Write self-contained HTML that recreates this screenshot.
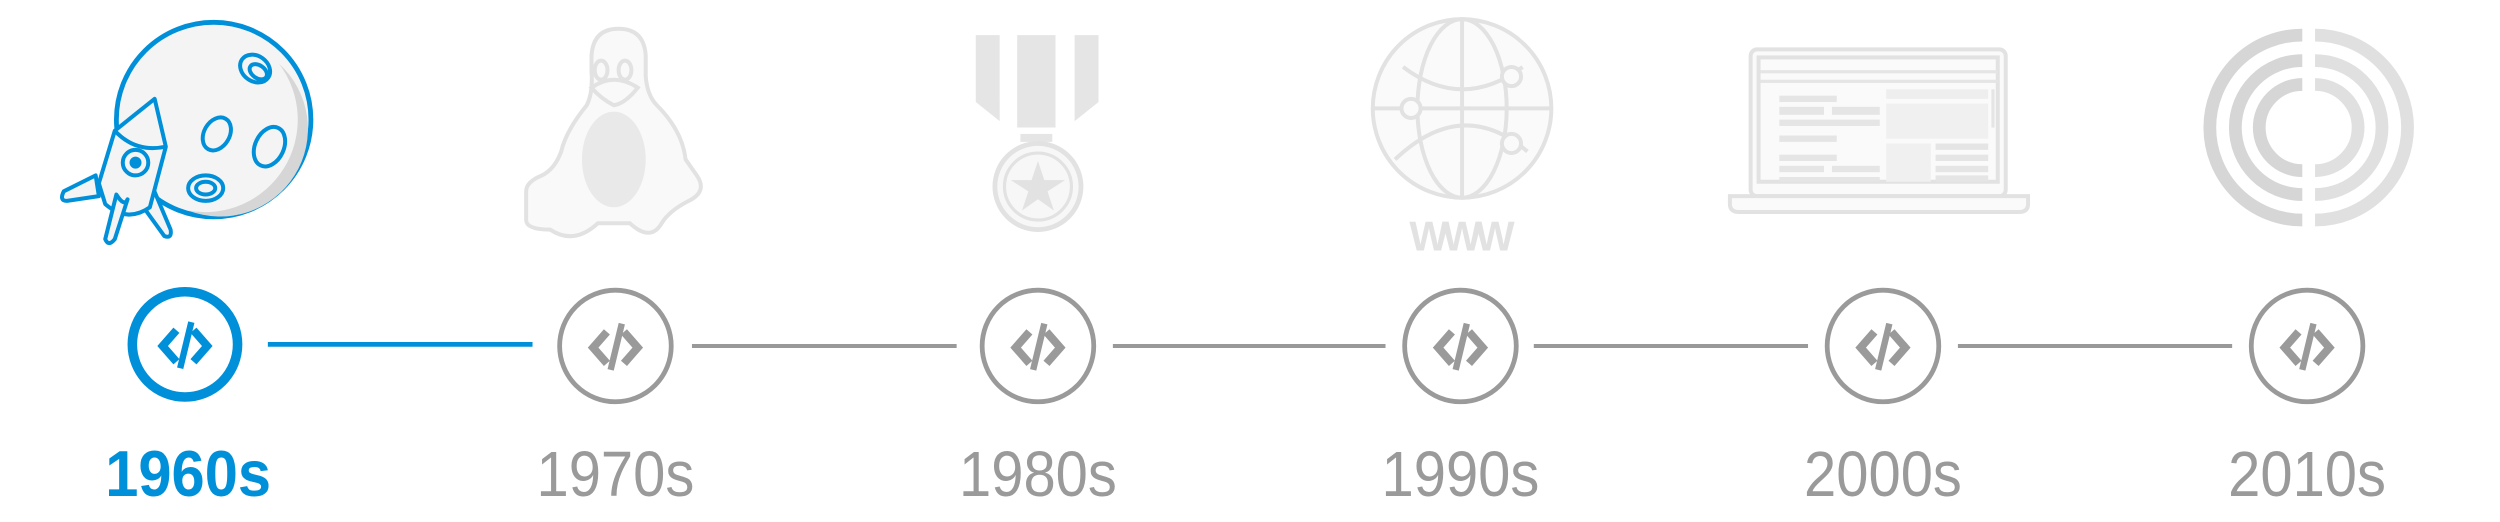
<!DOCTYPE html>
<html><head><meta charset="utf-8"><style>
html,body{margin:0;padding:0;background:#fff;width:2500px;height:522px;overflow:hidden}
svg{display:block}
</style></head><body>
<svg width="2500" height="522" viewBox="0 0 1568 327.4" preserveAspectRatio="none" xmlns="http://www.w3.org/2000/svg">
<!-- Moon + rocket -->
<circle cx="134" cy="75" r="61" fill="#f4f4f4" stroke="#0090d9" stroke-width="3"/>
<path d="M175 40 A55 55 0 0 1 118 132 A58 58 0 0 0 175 40Z" fill="#d6d6d6"/>
<g fill="none" stroke="#0090d9" stroke-width="2.5">
<ellipse cx="160" cy="43" rx="10" ry="8" transform="rotate(35 160 43)"/>
<ellipse cx="162" cy="45" rx="6" ry="4" transform="rotate(35 162 45)"/>
<ellipse cx="136" cy="84" rx="8" ry="11" transform="rotate(30 136 84)"/>
<ellipse cx="169" cy="92" rx="9" ry="13" transform="rotate(25 169 92)"/>
<ellipse cx="129" cy="118" rx="11" ry="8"/>
<ellipse cx="129" cy="118" rx="6" ry="4"/>
</g>
<g stroke="#0090d9" stroke-width="2.5" fill="#f4f4f4" stroke-linejoin="round">
<path d="M60 110 L40 120 Q37 126 42 126 L62 123Z"/>
<path d="M90 130 L103 148 Q108 150 107 144 L96 118Z"/>
<path d="M97 62 L104 92 L94 130 Q80 140 66 128 L62 115 L72 82 Z"/>
<path d="M72 82 Q85 96 104 92" fill="none"/>
<circle cx="85" cy="102" r="8"/>
<circle cx="85" cy="102" r="2.5" fill="#0090d9"/>
<path d="M73 122 Q78 130 80 125 L72 150 Q68 155 66 150Z"/>
</g>
<!-- Penguin -->
<g fill="#f9f9f9" stroke="#e2e2e2" stroke-width="2.5">
<path d="M388 18 Q404 18 405 35 L405 48 Q406 60 412 66 Q428 82 430 100 L437 110 Q444 120 432 126 Q420 132 415 140 Q408 152 395 140 L375 140 Q360 154 345 144 Q330 144 330 138 L330 120 Q330 114 340 110 Q348 106 352 95 Q355 82 368 66 Q372 58 371 45 L371 35 Q372 18 388 18Z"/>
<ellipse cx="385" cy="100" rx="20" ry="30" fill="#e9e9e9" stroke="none"/>
<ellipse cx="377" cy="44" rx="4" ry="6"/><ellipse cx="392" cy="44" rx="4" ry="6"/>
<path d="M371 55 Q385 45 400 55 Q392 65 385 66 Q377 62 371 55Z"/>
</g>
<!-- Medal -->
<g fill="#e5e5e5">
<path d="M612 22 H627 V76 L612 64Z"/><path d="M638 22 H662 V80 H638Z"/><path d="M674 22 H689 V64 L674 76Z"/>
<rect x="640" y="84" width="20" height="5"/>
</g>
<circle cx="651" cy="117" r="27" fill="#f7f7f7" stroke="#e2e2e2" stroke-width="3"/>
<circle cx="651" cy="117" r="21" fill="none" stroke="#e2e2e2" stroke-width="2"/>
<polygon points="651,101 655,113 668,113 657,120 661,132 651,125 641,132 645,120 634,113 647,113" fill="#e2e2e2"/>
<!-- Globe -->
<g fill="#fafafa" stroke="#e2e2e2" stroke-width="2.5">
<circle cx="917" cy="68" r="56"/>
<ellipse cx="917" cy="68" rx="28" ry="56" fill="none"/>
<path d="M861 68 H973 M917 12 V124" fill="none"/>
<path d="M880 42 Q917 70 955 42" fill="none"/><path d="M875 100 Q917 60 958 95" fill="none"/>
<circle cx="885" cy="68" r="6"/><circle cx="948" cy="48" r="6"/><circle cx="948" cy="90" r="6"/>
</g>
<text x="917" y="157" font-family="Liberation Sans Narrow, Liberation Sans, sans-serif" font-weight="bold" font-size="26" fill="#e2e2e2" text-anchor="middle" textLength="66">WWW</text>
<!-- Laptop -->
<g fill="#fafafa" stroke="#e2e2e2" stroke-width="2.5">
<rect x="1098" y="31" width="160" height="92" rx="4"/>
<rect x="1103" y="36" width="150" height="78"/>
<path d="M1085 123 H1272 V128 Q1272 133 1266 133 H1091 Q1085 133 1085 128Z"/>
</g>
<g fill="#e5e5e5">
<rect x="1104" y="44" width="149" height="2"/><rect x="1104" y="50" width="149" height="2"/>
<rect x="1116" y="60" width="36" height="4"/><rect x="1116" y="67" width="28" height="5"/><rect x="1149" y="67" width="30" height="5"/>
<rect x="1116" y="75" width="63" height="4"/><rect x="1116" y="85" width="36" height="4"/>
<rect x="1116" y="97" width="36" height="4"/><rect x="1116" y="104" width="28" height="4"/><rect x="1149" y="104" width="30" height="4"/><rect x="1116" y="111" width="63" height="3"/>
<rect x="1183" y="56" width="64" height="6" fill="#eee"/><rect x="1183" y="65" width="64" height="22" fill="#f0f0f0"/>
<rect x="1183" y="90" width="28" height="24" fill="#f0f0f0"/>
<rect x="1214" y="90" width="33" height="4"/><rect x="1214" y="97" width="33" height="4"/><rect x="1214" y="104" width="33" height="4"/><rect x="1214" y="110" width="33" height="4"/>
<rect x="1249" y="56" width="2" height="24"/>
</g>
<!-- Concentric -->
<g fill="none" stroke-width="8">
<path d="M1444 22 A58 58 0 0 0 1444 138" stroke="#d6d6d6"/>
<path d="M1452 22 A58 58 0 0 1 1452 138" stroke="#e0e0e0"/>
<path d="M1444 38 A42 42 0 0 0 1444 122" stroke="#d6d6d6"/>
<path d="M1452 38 A42 42 0 0 1 1452 122" stroke="#e0e0e0"/>
<path d="M1444 53 A27 27 0 0 0 1444 107" stroke="#d6d6d6"/>
<path d="M1452 53 A27 27 0 0 1 1452 107" stroke="#e0e0e0"/>
</g>
<!-- Lines -->
<line x1="168" y1="216" x2="334" y2="216" stroke="#0090d9" stroke-width="3"/>
<g stroke="#999" stroke-width="2.5">
<line x1="434" y1="217" x2="600" y2="217"/><line x1="698" y1="217" x2="869" y2="217"/>
<line x1="962" y1="217" x2="1134" y2="217"/><line x1="1228" y1="217" x2="1400" y2="217"/>
</g>
<!-- Nodes -->
<g fill="#fff">
<circle cx="116" cy="216" r="33" stroke="#0090d9" stroke-width="6"/>
<circle cx="386" cy="217" r="35" stroke="#9a9a9a" stroke-width="3"/>
<circle cx="651" cy="217" r="35" stroke="#9a9a9a" stroke-width="3"/>
<circle cx="916" cy="217" r="35" stroke="#9a9a9a" stroke-width="3"/>
<circle cx="1181" cy="217" r="35" stroke="#9a9a9a" stroke-width="3"/>
<circle cx="1447" cy="217" r="35" stroke="#9a9a9a" stroke-width="3"/>
</g>
<defs><g id="code"><path d="M-7 -7 L-14 1 L-7 9 M7 -7 L14 1 L7 9" fill="none" stroke-width="5" stroke-linecap="square" stroke-linejoin="miter"/><path d="M4 -14 L-3 15" stroke-width="4" fill="none"/></g></defs>
<use href="#code" x="116" y="216" stroke="#0090d9"/>
<use href="#code" x="386" y="217" stroke="#9a9a9a"/>
<use href="#code" x="651" y="217" stroke="#9a9a9a"/>
<use href="#code" x="916" y="217" stroke="#9a9a9a"/>
<use href="#code" x="1181" y="217" stroke="#9a9a9a"/>
<use href="#code" x="1447" y="217" stroke="#9a9a9a"/>
<!-- Labels -->
<g font-family="Liberation Sans, sans-serif" font-size="40" text-anchor="middle">
<text x="118" y="311" fill="#0090d9" font-weight="bold" font-size="41" textLength="104" lengthAdjust="spacingAndGlyphs">1960s</text>
<text x="386" y="311" fill="#9a9a9a" textLength="99" lengthAdjust="spacingAndGlyphs">1970s</text>
<text x="651" y="311" fill="#9a9a9a" textLength="99" lengthAdjust="spacingAndGlyphs">1980s</text>
<text x="916" y="311" fill="#9a9a9a" textLength="99" lengthAdjust="spacingAndGlyphs">1990s</text>
<text x="1181" y="311" fill="#9a9a9a" textLength="99" lengthAdjust="spacingAndGlyphs">2000s</text>
<text x="1447" y="311" fill="#9a9a9a" textLength="99" lengthAdjust="spacingAndGlyphs">2010s</text>
</g>
</svg>
</body></html>
